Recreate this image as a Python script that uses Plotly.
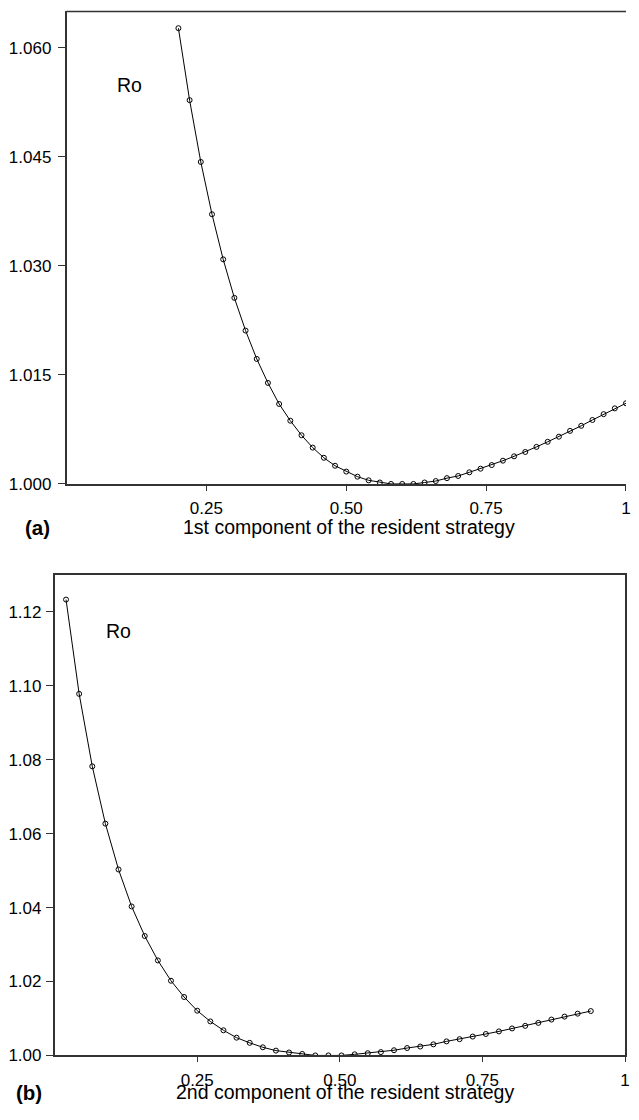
import plotly.graph_objects as go

# ---- data: panel (a) ----
x_a = [0.20, 0.22, 0.24, 0.26, 0.28, 0.30, 0.32, 0.34, 0.36, 0.38, 0.40,
       0.42, 0.44, 0.46, 0.48, 0.50, 0.52, 0.54, 0.56, 0.58, 0.60, 0.62,
       0.64, 0.66, 0.68, 0.70, 0.72, 0.74, 0.76, 0.78, 0.80, 0.82, 0.84,
       0.86, 0.88, 0.90, 0.92, 0.94, 0.96, 0.98, 1.00]
ro_a = [1.0627, 1.0528, 1.0443, 1.0371, 1.0309, 1.0256, 1.0211, 1.0172,
        1.0139, 1.0110, 1.0087, 1.0067, 1.0050, 1.0036, 1.0025, 1.0017,
        1.0010, 1.0005, 1.0002, 1.0000, 1.0000, 1.0000, 1.0002, 1.0004,
        1.0008, 1.0011, 1.0016, 1.0021, 1.0026, 1.0032, 1.0038, 1.0044,
        1.0051, 1.0058, 1.0065, 1.0073, 1.0080, 1.0088, 1.0096, 1.0104,
        1.0111]

# ---- data: panel (b) ----
x_b = [0.020, 0.043, 0.066, 0.089, 0.112, 0.135, 0.158, 0.181, 0.204,
       0.227, 0.250, 0.273, 0.296, 0.319, 0.342, 0.365, 0.388, 0.411,
       0.434, 0.457, 0.480, 0.503, 0.526, 0.549, 0.572, 0.595, 0.618,
       0.641, 0.664, 0.687, 0.710, 0.733, 0.756, 0.779, 0.802, 0.825,
       0.848, 0.871, 0.894, 0.917, 0.940]
ro_b = [1.1233, 1.0978, 1.0782, 1.0627, 1.0503, 1.0403, 1.0323, 1.0257,
        1.0202, 1.0158, 1.0121, 1.0092, 1.0068, 1.0048, 1.0034, 1.0022,
        1.0013, 1.0008, 1.0004, 1.0000, 1.0000, 1.0000, 1.0003, 1.0006,
        1.0009, 1.0014, 1.0020, 1.0024, 1.0030, 1.0038, 1.0044, 1.0051,
        1.0058, 1.0065, 1.0073, 1.0080, 1.0088, 1.0097, 1.0105, 1.0113,
        1.0120]

x_ticks = [0.25, 0.50, 0.75, 1.00]
x_ticklabels = ["0.25", "0.50", "0.75", "1"]
y_ticks_a = [1.000, 1.015, 1.030, 1.045, 1.060]
y_ticks_b = [1.00, 1.02, 1.04, 1.06, 1.08, 1.10, 1.12]

# The page keeps the browser's default 8 px body margin, so the figure is
# sized to fit the 639x1120 window exactly (no overflow, no rescaling).
BODY = 8
FIG_W, FIG_H = 639 - 2 * BODY, 1120 - 2 * BODY
FONT = "Liberation Sans, Arial, Helvetica, sans-serif"
AX = "#333333"

fig = go.Figure()
marker = dict(symbol="circle-open", size=5, color="black", line=dict(width=1, color="black"))
fig.add_trace(go.Scatter(x=x_a, y=ro_a, mode="lines+markers", xaxis="x", yaxis="y",
                         line=dict(color="black", width=1), marker=marker, showlegend=False))
fig.add_trace(go.Scatter(x=x_b, y=ro_b, mode="lines+markers", xaxis="x2", yaxis="y2",
                         line=dict(color="black", width=1), marker=marker, showlegend=False))

def px_x(p):
    """window pixel column -> paper fraction of the figure"""
    return min(1.0, max(0.0, (p - BODY) / FIG_W))

def px_y(p):
    """window pixel row -> paper fraction of the figure"""
    return min(1.0, max(0.0, 1 - (p - BODY) / FIG_H))

common_x = dict(range=[0, 1], tickvals=x_ticks, ticktext=x_ticklabels, ticks="outside",
                ticklen=5, tickcolor=AX, showline=True, linecolor=AX, linewidth=1.5,
                showgrid=False, zeroline=False, ticklabeloverflow="allow",
                ticklabelstandoff=3,
                tickfont=dict(family=FONT, size=17, color="black"))
common_y = dict(ticks="outside", ticklen=7, tickcolor=AX, showline=True, linecolor=AX,
                linewidth=1.5, showgrid=False, zeroline=False,
                tickfont=dict(family=FONT, size=17, color="black"))

def note(text, x, y, size):
    return dict(text=text, x=px_x(x), y=px_y(y), xref="paper", yref="paper",
                xanchor="center", yanchor="middle", showarrow=False,
                font=dict(family=FONT, size=size, color="black"))

fig.update_layout(
    width=FIG_W, height=FIG_H, margin=dict(l=0, r=0, t=0, b=0), autosize=False,
    paper_bgcolor="white", plot_bgcolor="white",
    xaxis=dict(domain=[px_x(67), 1.0], anchor="y", **common_x),
    yaxis=dict(domain=[px_y(488.3), px_y(11.5)], anchor="x", range=[1.000, 1.065],
               tickvals=y_ticks_a, tickformat=".3f", ticklabelstandoff=3, **common_y),
    xaxis2=dict(domain=[px_x(55), px_x(630)], anchor="y2", mirror=True, **common_x),
    yaxis2=dict(domain=[px_y(1065), px_y(580)], anchor="x2", range=[1.00, 1.13],
                tickvals=y_ticks_b, tickformat=".2f", mirror=True, ticklabelstandoff=1,
                **common_y),
    shapes=[dict(type="line", xref="x domain", yref="y domain", x0=0, x1=1, y0=1, y1=1,
                 line=dict(color=AX, width=1.5))],
    annotations=[
        note("Ro", 130.5, 86, 19.5),
        note("Ro", 119.5, 636.7, 19.5),
        note("1st component of the resident strategy", 352, 532, 19.5),
        note("2nd component of the resident strategy", 348, 1102, 19.5),
        note("<b>(a)</b>", 38, 532, 20.5),
        note("<b>(b)</b>", 29.5, 1102, 20.5),
    ],
)

fig.write_html("out.html", config={"displayModeBar": False, "responsive": False})
